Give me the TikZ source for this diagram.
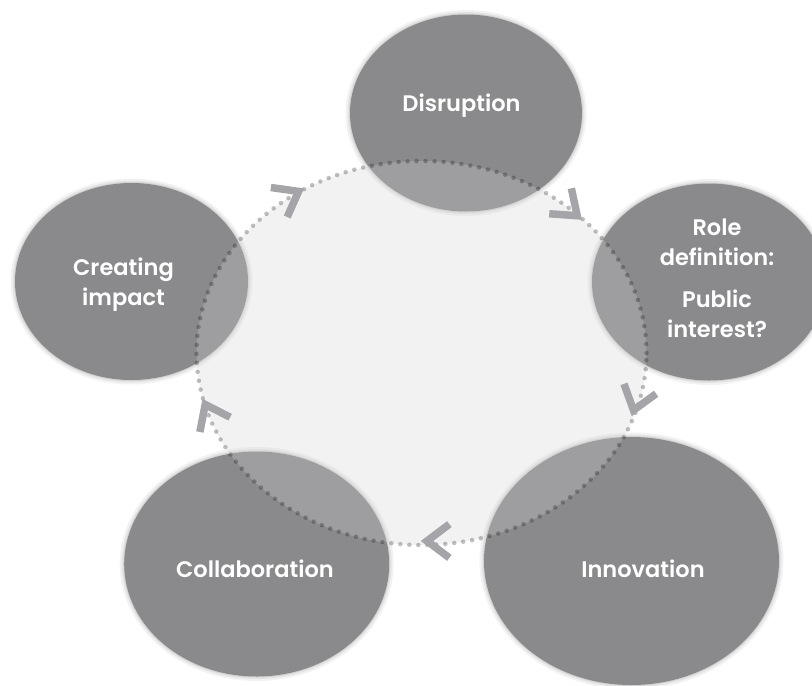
\documentclass[tikz,border=0pt]{standalone}
\usepackage{fontspec}
\setmainfont{Poppins}[BoldFont={Poppins SemiBold}]
\usetikzlibrary{shapes.geometric}
\definecolor{ellgray}{RGB}{138,138,140}
\definecolor{chevgray}{RGB}{165,165,169}
\definecolor{hubgray}{RGB}{210,210,210}
\tikzset{
  bubble/.style={ellipse, inner sep=0pt, fill=ellgray,
    preaction={draw=black, draw opacity=0.05, line width=9pt},
    preaction={draw=black, draw opacity=0.06, line width=5pt},
    preaction={draw=black, draw opacity=0.08, line width=2pt}},
  hub/.style={ellipse, inner sep=0pt, fill=hubgray, fill opacity=0.29},
  ring/.style={ellipse, inner sep=0pt, draw=black, draw opacity=0.25, line width=4.5pt,
    line cap=round, dash pattern=on 0pt off 9pt},
  chev/.style={draw=chevgray, line width=7.5pt, line cap=butt, line join=miter},
  lbl/.style={text=white, font=\bfseries\fontsize{22.5}{30}\selectfont, align=center, inner sep=0pt}
}
\begin{document}
\begin{tikzpicture}[x=1pt, y=-1pt]
\useasboundingbox (0,0) rectangle (812,686);
% outer bubbles
\node[bubble, minimum width=232pt, minimum height=197pt] (disr) at (466,113) {};
\node[bubble, minimum width=234pt, minimum height=197pt] (role) at (709,282) {};
\node[bubble, minimum width=295pt, minimum height=248pt] (innov) at (631.5,561) {};
\node[bubble, minimum width=265pt, minimum height=225pt] (collab) at (256.7,564) {};
\node[bubble, minimum width=233pt, minimum height=197pt] (impact) at (131.5,281.5) {};
% central hub
\node[hub, minimum width=450pt, minimum height=384pt] (center) at (421.5,353) {};
\node[ring, minimum width=450pt, minimum height=384pt] (ringnode) at (421.5,353) {};
% chevrons
\coordinate (c1) at (298.6,191.4);
\coordinate (c2) at (577.2,215.7);
\coordinate (c3) at (633.5,410.2);
\coordinate (c4) at (427,541);
\coordinate (c5) at (205.2,404.5);
\draw[chev] (c1) ++(188:28) -- (c1) -- ++(114:28);
\draw[chev] (c2) ++(258:28) -- (c2) -- ++(184:28);
\draw[chev] (c3) ++(250:28) -- (c3) -- ++(324:28);
\draw[chev] (c4) ++(37:28) -- (c4) -- ++(-37:28);
\draw[chev] (c5) ++(101:28) -- (c5) -- ++(27:28);
% labels
\node[lbl] (tdisr) at (461.5,106) {Disruption};
\node[lbl] (trole) at (717,278) {Role\\definition:\\[12pt]Public\\interest?};
\node[lbl] (tinnov) at (643,569) {Innovation};
\node[lbl] (tcollab) at (255,569) {Collaboration};
\node[lbl] (timpact) at (123.5,284.5) {Creating\\impact};
\end{tikzpicture}
\end{document}
